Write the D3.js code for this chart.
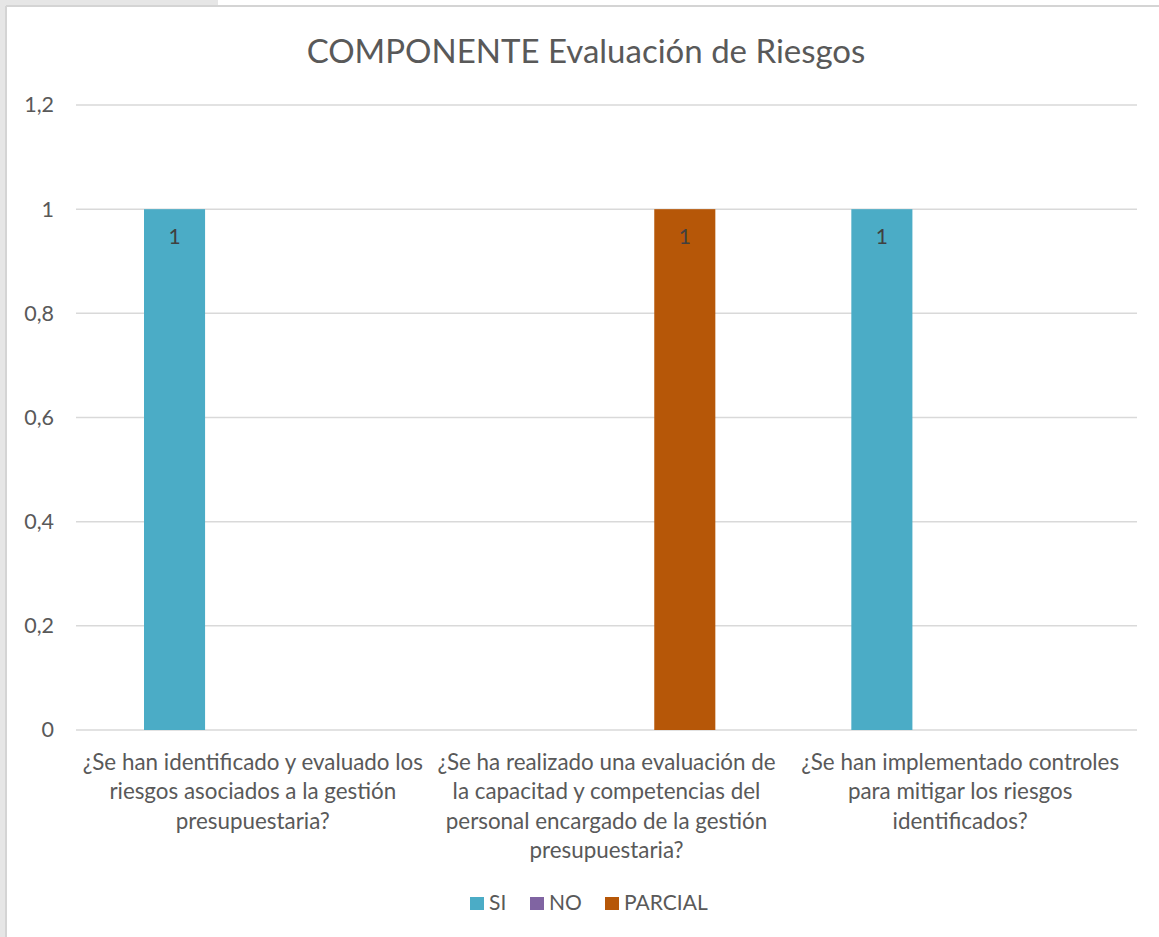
<!DOCTYPE html>
<html lang="es">
  <head>
    <meta charset="utf-8">
    <title>COMPONENTE Evaluación de Riesgos</title>
    <style>
      html, body { margin: 0; padding: 0; background: #fff; }
      .chart text { font-family: Lato, "Open Sans", sans-serif; fill: #595959; }
    </style>
  </head>
  <body>
    <div class="chart"></div>

    <script src="https://cdnjs.cloudflare.com/ajax/libs/d3/7.8.5/d3.min.js"></script>
    <script type="text/javascript">
      // data
      var categories = [
        "¿Se han identificado y evaluado los\nriesgos asociados a la gestión\npresupuestaria?",
        "¿Se ha realizado una evaluación de\nla capacitad y competencias del\npersonal encargado de la gestión\npresupuestaria?",
        "¿Se han implementado controles\npara mitigar los riesgos\nidentificados?"
      ];
      var seriesNames = ["SI", "NO", "PARCIAL"];
      var siValues      = [1, null, 1];
      var noValues      = [null, null, null];
      var parcialValues = [null, 1, null];
      var yTicks = [0, 0.2, 0.4, 0.6, 0.8, 1, 1.2];
      var colors = ["#4bacc6", "#8064a2", "#b65708"];

      var W = 1159, H = 937;
      var margin = {top: 105, right: 22, bottom: 207, left: 76},
          width = W - margin.left - margin.right,
          height = H - margin.top - margin.bottom;

      var svg = d3.select(".chart")
        .append("svg")
          .attr("width", W)
          .attr("height", H);

      // window frame like the screenshot
      svg.append("rect").attr("x", 0).attr("y", 0).attr("width", 6).attr("height", H).attr("fill", "#e6e6e6");
      svg.append("rect").attr("x", 0).attr("y", 0).attr("width", 218).attr("height", 6).attr("fill", "#e6e6e6");
      svg.append("line").attr("x1", 6).attr("x2", W).attr("y1", 6).attr("y2", 6)
        .attr("stroke", "#d4d4d4").attr("stroke-width", 2);
      svg.append("line").attr("x1", 6).attr("x2", 6).attr("y1", 6).attr("y2", H)
        .attr("stroke", "#d4d4d4").attr("stroke-width", 2);

      svg.append("text")
        .attr("x", 586)
        .attr("y", 63)
        .attr("text-anchor", "middle")
        .style("font-size", "33px")
        .text("COMPONENTE Evaluación de Riesgos");

      var g = svg.append("g")
        .attr("transform", "translate(" + margin.left + "," + margin.top + ")");

      var x0 = d3.scaleBand()
        .domain(d3.range(categories.length))
        .range([0, width])
        .paddingInner(0)
        .paddingOuter(0);

      var groupPad = 68;
      var x1 = d3.scaleBand()
        .domain(seriesNames)
        .range([groupPad, x0.bandwidth() - groupPad])
        .paddingInner(0.22);

      var y = d3.scaleLinear().domain([0, 1.2]).range([height, 0]);

      var fmt = function(d) { return d3.format("~g")(d).replace(".", ","); };

      // gridlines
      g.append("g")
        .selectAll("line")
        .data(yTicks)
        .enter().append("line")
          .attr("x1", 0)
          .attr("x2", width)
          .attr("y1", function(d) { return y(d); })
          .attr("y2", function(d) { return y(d); })
          .attr("stroke", "#d9d9d9")
          .attr("stroke-width", 1.5);

      // y axis labels
      var yAxis = d3.axisLeft(y).tickValues(yTicks).tickFormat(fmt).tickSize(0).tickPadding(22);
      g.append("g")
        .call(yAxis)
        .call(function(a) { a.select(".domain").remove(); })
        .selectAll("text")
          .style("font-size", "21.5px")
          .attr("fill", "#595959");

      var table = categories.map(function(c, i) {
        return [
          {key: "SI", v: siValues[i], i: i},
          {key: "NO", v: noValues[i], i: i},
          {key: "PARCIAL", v: parcialValues[i], i: i}
        ];
      });

      var groups = g.selectAll(".grp")
        .data(table)
        .enter().append("g")
          .attr("class", "grp")
          .attr("transform", function(d, i) { return "translate(" + x0(i) + ",0)"; });

      var bars = groups.selectAll("g.bar")
        .data(function(d) { return d.filter(function(e) { return e.v != null; }); })
        .enter().append("g").attr("class", "bar");

      bars.append("rect")
        .attr("x", function(d) { return x1(d.key); })
        .attr("width", x1.bandwidth())
        .attr("y", function(d) { return y(d.v); })
        .attr("height", function(d) { return y(0) - y(d.v); })
        .attr("fill", function(d) { return colors[seriesNames.indexOf(d.key)]; });

      bars.append("text")
        .attr("x", function(d) { return x1(d.key) + x1.bandwidth() / 2; })
        .attr("y", function(d) { return y(d.v) + 35; })
        .attr("text-anchor", "middle")
        .style("font-size", "21px")
        .style("fill", "#404040")
        .text(function(d) { return fmt(d.v); });

      // category labels
      var catLabels = g.append("g")
        .selectAll("text")
        .data(categories)
        .enter().append("text")
          .attr("x", function(d, i) { return x0(i) + x0.bandwidth() / 2; })
          .attr("y", height + 40)
          .attr("text-anchor", "middle")
          .style("font-size", "22.4px");

      catLabels.each(function(d) {
        var t = d3.select(this);
        d.split("\n").forEach(function(line, k) {
          t.append("tspan")
            .attr("x", t.attr("x"))
            .attr("dy", k === 0 ? 0 : 29.3)
            .text(line);
        });
      });

      // legend
      var legendX = [470, 530, 605];
      var legend = svg.append("g")
        .selectAll("g")
        .data(seriesNames)
        .enter().append("g")
          .attr("transform", function(d, i) { return "translate(" + legendX[i] + ",897)"; });

      legend.append("rect")
        .attr("width", 14)
        .attr("height", 13)
        .attr("fill", function(d, i) { return colors[i]; });

      legend.append("text")
        .attr("x", 19)
        .attr("y", 13)
        .style("font-size", "21px")
        .text(function(d) { return d; });
    </script>
  </body>
</html>
